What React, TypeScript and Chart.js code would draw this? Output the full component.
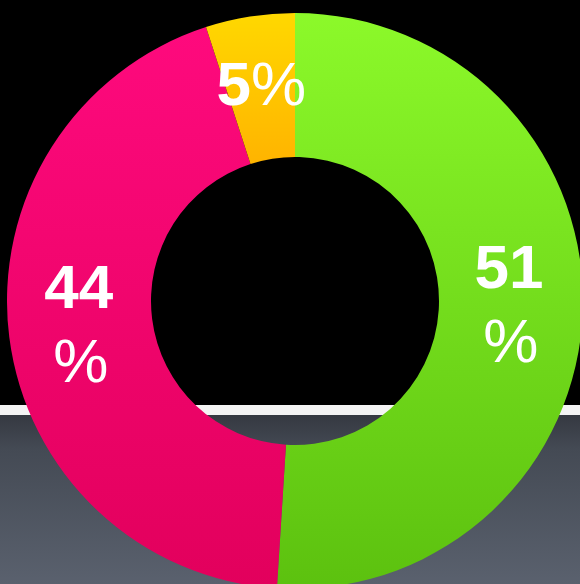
import React, { useEffect, useRef } from "react";
import { Chart, registerables } from "chart.js";

Chart.register(...registerables);

const categories = ["Green", "Pink", "Yellow"];
const values = [51, 44, 5];
const topColors = ["#8cf92a", "#ff0a7e", "#ffd800"];
const bottomColors = ["#5cc10f", "#e2005c", "#ffb400"];
const wrapLabel = [true, true, false];

const labelPlugin = {
  id: "sliceLabels",
  afterDatasetsDraw(chart: any) {
    const ctx = chart.ctx;
    const meta = chart.getDatasetMeta(0);
    meta.data.forEach((arc: any, i: number) => {
      const p = arc.tooltipPosition();
      const num = String(values[i]);
      ctx.save();
      ctx.fillStyle = "#ffffff";
      ctx.textBaseline = "middle";
      const boldFont = "bold 62px 'Liberation Sans', Arial, sans-serif";
      const normFont = "normal 62px 'Liberation Sans', Arial, sans-serif";
      if (wrapLabel[i]) {
        ctx.textAlign = "center";
        ctx.font = boldFont;
        ctx.fillText(num, p.x - 2, p.y - 37);
        ctx.font = normFont;
        ctx.fillText("%", p.x, p.y + 37);
      } else {
        ctx.font = boldFont;
        const w1 = ctx.measureText(num).width;
        ctx.font = normFont;
        const w2 = ctx.measureText("%").width;
        const x0 = p.x - (w1 + w2) / 2;
        ctx.textAlign = "left";
        ctx.font = boldFont;
        ctx.fillText(num, x0, p.y);
        ctx.font = normFont;
        ctx.fillText("%", x0 + w1, p.y);
      }
      ctx.restore();
    });
  },
};

export default function App() {
  const ref = useRef<HTMLCanvasElement>(null);
  useEffect(() => {
    if (!ref.current) return;
    const chart = new Chart(ref.current, {
      type: "doughnut",
      data: {
        labels: categories,
        datasets: [
          {
            data: values,
            backgroundColor: (c: any) => {
              const area = c.chart.chartArea;
              const i = c.dataIndex;
              if (!area) return topColors[i];
              const bottom = i === 2 ? area.top + 150 : area.bottom;
              const g = c.chart.ctx.createLinearGradient(0, area.top, 0, bottom);
              g.addColorStop(0, topColors[i]);
              g.addColorStop(1, bottomColors[i]);
              return g;
            },
            borderWidth: 0,
          },
        ],
      },
      options: {
        responsive: false,
        animation: false,
        cutout: "50%",
        layout: { padding: 0 },
        plugins: {
          legend: { display: false },
          tooltip: { enabled: false },
        },
      },
      plugins: [labelPlugin],
    });
    return () => chart.destroy();
  }, []);

  return (
    <div
      style={{
        position: "fixed",
        left: 0,
        top: 0,
        width: 580,
        height: 584,
        overflow: "hidden",
        background: "#000",
      }}
    >
      <div style={{ position: "absolute", left: 0, top: 405, width: 580, height: 10, background: "#f4f4f4" }} />
      <div
        style={{
          position: "absolute",
          left: 0,
          top: 415,
          width: 580,
          height: 169,
          background: "linear-gradient(#353941 0%, #444a54 20%, #5a616e 100%)",
        }}
      />
      <canvas
        ref={ref}
        width={576}
        height={576}
        style={{ position: "absolute", left: 7, top: 13, width: 576, height: 576 }}
      />
    </div>
  );
}
